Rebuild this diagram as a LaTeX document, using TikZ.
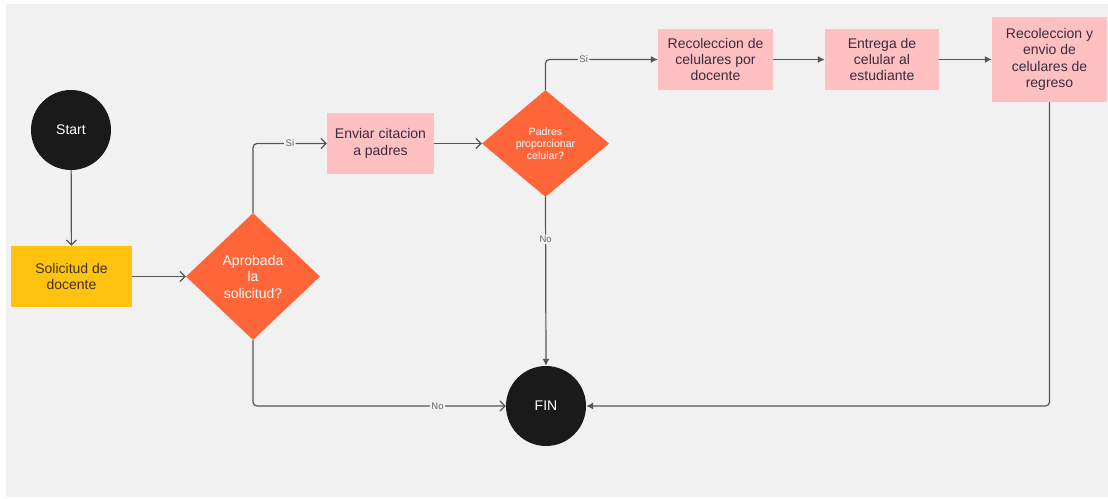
\documentclass[tikz,border=0pt]{standalone}
\usepackage{fontspec}
\setmainfont{Liberation Sans}
\usetikzlibrary{shapes.geometric,arrows.meta}
\definecolor{canvas}{HTML}{F1F1F1}
\definecolor{termfill}{HTML}{1A1A1A}
\definecolor{reqfill}{HTML}{FFC20E}
\definecolor{decfill}{HTML}{FE6539}
\definecolor{actfill}{HTML}{FFC0C1}
\definecolor{acttext}{HTML}{3A2C3F}
\definecolor{reqtext}{HTML}{3A3222}
\definecolor{wire}{HTML}{555555}
\definecolor{lbltext}{HTML}{666666}
\tikzset{
  term/.style={circle, fill=termfill, text=white, minimum size=80pt, inner sep=0pt,
    font=\fontsize{14}{16.5}\selectfont},
  reqbox/.style={rectangle, fill=reqfill, text=reqtext, align=center, inner sep=0pt,
    font=\fontsize{14}{16.5}\selectfont},
  actbox/.style={rectangle, fill=actfill, text=acttext, align=center, inner sep=0pt,
    font=\fontsize{14}{16.3}\selectfont},
  decbig/.style={diamond, fill=decfill, text=white, align=center, inner sep=0pt, aspect=1,
    font=\fontsize{14}{16.5}\selectfont},
  decsmall/.style={diamond, fill=decfill, text=white, align=center, inner sep=0pt, aspect=1,
    font=\fontsize{10.6}{12}\selectfont},
  wireline/.style={draw=wire, line width=1.2pt, rounded corners=4pt},
  opentip/.style={wireline, -{Straight Barb[length=5pt,width=10pt,line width=1.2pt]}},
  filltip/.style={wireline, -{Latex[length=7pt,width=7pt]}},
  lbl/.style={fill=canvas, text=lbltext, inner sep=1.5pt, font=\fontsize{9.5}{11}\selectfont}
}
\begin{document}
\begin{tikzpicture}[x=1pt,y=-1pt]
  % page and canvas
  \useasboundingbox (0,0) rectangle (1108,498);
  \fill[white] (0,0) rectangle (1108,498);
  \fill[canvas] (6,4) rectangle (1108,497);

  % nodes
  \node[term] (start) at (71,130) {Start};
  \node[reqbox, minimum width=121pt, minimum height=61pt] (sol) at (71.5,276.5) {Solicitud de\\docente};
  \node[decbig, minimum width=134pt, minimum height=127pt] (apr) at (253,276.5) {Aprobada\\la\\solicitud?};
  \node[actbox, minimum width=107pt, minimum height=61pt] (env) at (380.5,143.5) {Enviar citacion\\a padres};
  \node[decsmall, minimum width=127pt, minimum height=107pt] (pad) at (545.5,143.5) {Padres\\proporcionar\\celular?};
  \node[actbox, minimum width=115pt, minimum height=61pt] (rec) at (715.5,59.5) {Recoleccion de\\celulares por\\docente};
  \node[actbox, minimum width=114pt, minimum height=61pt] (ent) at (882,59.5) {Entrega de\\celular al\\estudiante};
  \node[actbox, minimum width=115pt, minimum height=85pt] (renv) at (1049.5,59.5) {Recoleccion y\\envio de\\celulares de\\regreso};
  \node[term] (fin) at (546,406) {FIN};

  % connectors
  \draw[opentip] (start) -- (sol);
  \draw[opentip] (sol) -- (apr);
  \draw[opentip] (apr.north) |- node[lbl, pos=0.75] {Si} (env.west);
  \draw[opentip] (env) -- (pad);
  \draw[filltip] (pad.north) |- node[lbl, pos=0.67] {Si} (rec.west);
  \draw[filltip] (rec) -- (ent);
  \draw[filltip] (ent) -- (renv);
  \draw[filltip] (renv.south) |- (fin.east);
  \draw[opentip] (apr.south) |- node[lbl, pos=0.865] {No} (fin.west);
  \draw[filltip] (pad.south) -- node[lbl, pos=0.25] {No} (fin.north);
\end{tikzpicture}
\end{document}
